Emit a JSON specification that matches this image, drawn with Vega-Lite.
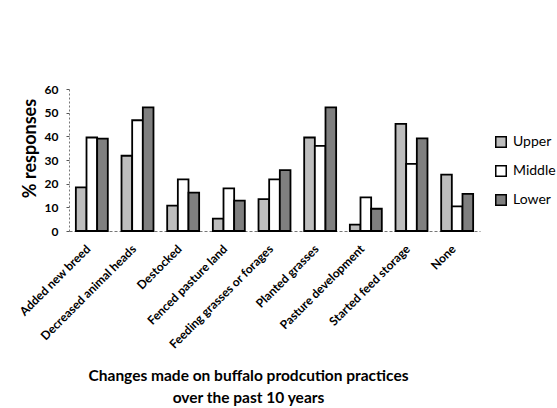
{
  "$schema": "https://vega.github.io/schema/vega-lite/v6.json",
  "width": 411,
  "height": 142,
  "autosize": {"type": "none"},
  "padding": {"left": 69, "top": 89, "right": 77, "bottom": 177},
  "background": "white",
  "config": {"view": {"stroke": null}, "font": "Lato"},
  "data": {"values": [
    {"change": "Added new breed", "group": "Upper", "value": 18.4},
    {"change": "Added new breed", "group": "Middle", "value": 39.5},
    {"change": "Added new breed", "group": "Lower", "value": 39.0},
    {"change": "Decreased animal heads", "group": "Upper", "value": 31.8},
    {"change": "Decreased animal heads", "group": "Middle", "value": 46.8},
    {"change": "Decreased animal heads", "group": "Lower", "value": 52.2},
    {"change": "Destocked", "group": "Upper", "value": 10.7},
    {"change": "Destocked", "group": "Middle", "value": 21.8},
    {"change": "Destocked", "group": "Lower", "value": 16.2},
    {"change": "Fenced pasture land", "group": "Upper", "value": 5.2},
    {"change": "Fenced pasture land", "group": "Middle", "value": 18.0},
    {"change": "Fenced pasture land", "group": "Lower", "value": 12.8},
    {"change": "Feeding grasses or forages", "group": "Upper", "value": 13.5},
    {"change": "Feeding grasses or forages", "group": "Middle", "value": 21.8},
    {"change": "Feeding grasses or forages", "group": "Lower", "value": 25.7},
    {"change": "Planted grasses", "group": "Upper", "value": 39.5},
    {"change": "Planted grasses", "group": "Middle", "value": 36.0},
    {"change": "Planted grasses", "group": "Lower", "value": 52.2},
    {"change": "Pasture development", "group": "Upper", "value": 2.7},
    {"change": "Pasture development", "group": "Middle", "value": 14.2},
    {"change": "Pasture development", "group": "Lower", "value": 9.4},
    {"change": "Started feed storage", "group": "Upper", "value": 45.3},
    {"change": "Started feed storage", "group": "Middle", "value": 28.4},
    {"change": "Started feed storage", "group": "Lower", "value": 39.1},
    {"change": "None", "group": "Upper", "value": 23.8},
    {"change": "None", "group": "Middle", "value": 10.4},
    {"change": "None", "group": "Lower", "value": 15.7}
  ]},
  "mark": {"type": "bar", "stroke": "black", "strokeWidth": 1.8},
  "encoding": {
    "x": {
      "field": "change", "type": "nominal", "sort": null,
      "scale": {"paddingInner": 0.3, "paddingOuter": 0.15},
      "axis": {
        "title": ["Changes made on buffalo prodcution practices", "over the past 10 years"],
        "titleFont": "Lato", "titleFontSize": 15.5, "titleFontWeight": "bold", "titleColor": "black",
        "titleLineHeight": 22, "titleX": 179, "titleY": 144, "titleBaseline": "middle",
        "labelAngle": -45, "labelFontSize": 12, "labelFontWeight": "bold", "labelColor": "black",
        "labelPadding": 12, "labelOffset": -7, "ticks": false,
        "domainColor": "#777", "domainDash": [3, 2], "domainWidth": 1
      }
    },
    "xOffset": {"field": "group", "type": "nominal", "sort": ["Upper", "Middle", "Lower"], "scale": {"paddingInner": 0, "paddingOuter": 0}},
    "y": {
      "field": "value", "type": "quantitative",
      "scale": {"domain": [0, 60]},
      "axis": {
        "title": "% responses", "titleFontSize": 18, "titleFontWeight": "bold", "titleColor": "black",
        "titleX": -39, "titleY": 59, "titleAngle": -90, "titleAlign": "center", "titleBaseline": "middle",
        "values": [0, 10, 20, 30, 40, 50, 60], "grid": false,
        "labelFontSize": 12, "labelFontWeight": "bold", "labelColor": "black", "labelPadding": 8,
        "tickSize": 3, "tickColor": "#555",
        "domainColor": "#777", "domainDash": [2, 2], "domainWidth": 1
      }
    },
    "fill": {
      "field": "group", "type": "nominal",
      "sort": ["Upper", "Middle", "Lower"],
      "scale": {"domain": ["Upper", "Middle", "Lower"], "range": ["#bdbdbd", "#ffffff", "#7f7f7f"]},
      "legend": {
        "title": null, "orient": "none", "legendX": 425, "legendY": 46,
        "symbolType": "square", "symbolSize": 110, "symbolStrokeColor": "black", "symbolStrokeWidth": 1.5,
        "labelFontSize": 14, "labelColor": "black", "labelFont": "Lato", "rowPadding": 11, "labelOffset": 5
      }
    }
  }
}
